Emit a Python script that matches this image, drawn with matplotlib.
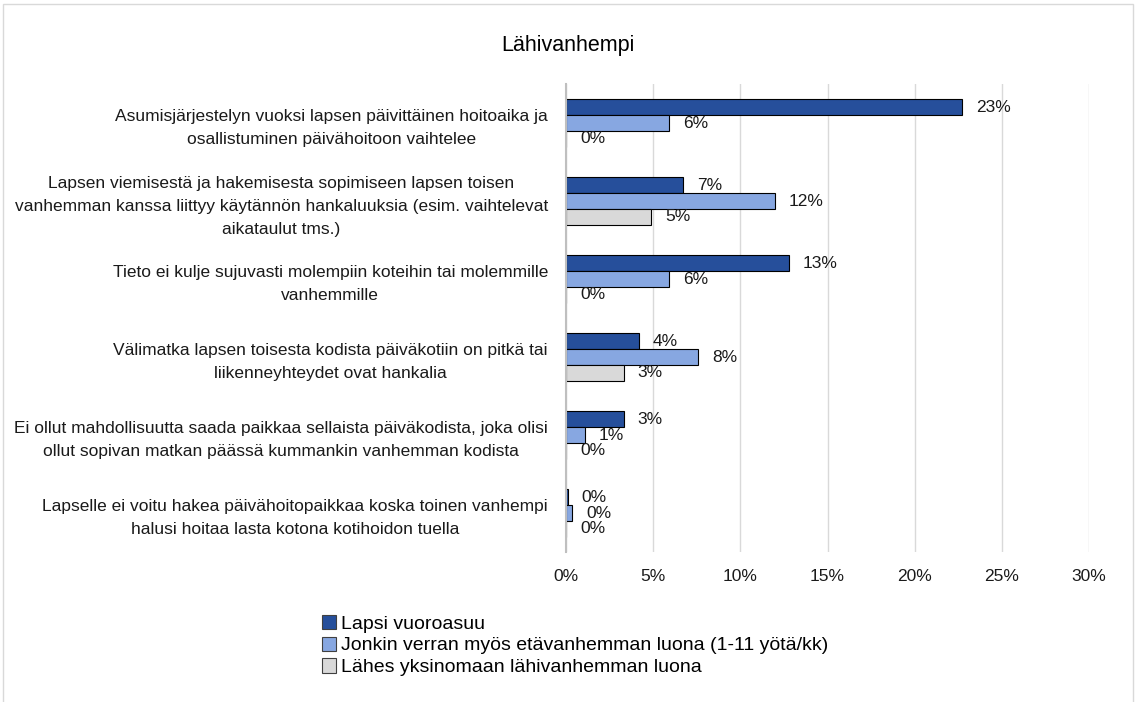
import matplotlib.pyplot as plt
import matplotlib.patches as mpatches
from matplotlib.ticker import FuncFormatter
import numpy as np

plt.rcParams['font.family'] = ['Liberation Sans', 'DejaVu Sans']

# data (share of respondents)
categories = [
    "Asumisjärjestelyn vuoksi lapsen päivittäinen hoitoaika ja\nosallistuminen päivähoitoon vaihtelee",
    "Lapsen viemisestä ja hakemisesta sopimiseen lapsen toisen\nvanhemman kanssa liittyy käytännön hankaluuksia (esim. vaihtelevat\naikataulut tms.)",
    "Tieto ei kulje sujuvasti molempiin koteihin tai molemmille\nvanhemmille",
    "Välimatka lapsen toisesta kodista päiväkotiin on pitkä tai\nliikenneyhteydet ovat hankalia",
    "Ei ollut mahdollisuutta saada paikkaa sellaista päiväkodista, joka olisi\nollut sopivan matkan päässä kummankin vanhemman kodista",
    "Lapselle ei voitu hakea päivähoitopaikkaa koska toinen vanhempi\nhalusi hoitaa lasta kotona kotihoidon tuella",
]
vuoroasuu = [0.227, 0.067, 0.128, 0.042, 0.033, 0.001]
etavanhempi = [0.059, 0.120, 0.059, 0.076, 0.011, 0.0035]
lahivanhempi = [0.0, 0.049, 0.0, 0.033, 0.0, 0.0]

series_names = ["Lapsi vuoroasuu",
                "Jonkin verran myös etävanhemman luona (1-11 yötä/kk)",
                "Lähes yksinomaan lähivanhemman luona"]
colors = ["#264f9b", "#87a7e1", "#d9d9d9"]

fig = plt.figure(figsize=(11.36, 7.02), dpi=100)
W, H = 1136, 702
ax = fig.add_axes([566 / W, 1 - 552 / H, (1089 - 566) / W, (552 - 84) / H])

y = np.arange(len(categories))
h = 0.205
for i, (vals, col) in enumerate(zip([vuoroasuu, etavanhempi, lahivanhempi], colors)):
    pos = y + (i - 1) * h
    ax.barh(pos, vals, height=h, color=col, edgecolor="black", linewidth=0.8,
            label=series_names[i], zorder=3)
    for p, v in zip(pos, vals):
        ax.annotate(f"{round(v * 100):.0f}%", (v, p), xytext=(10, 0),
                    textcoords="offset points", va="center", ha="left",
                    fontsize=12.5, color="#1a1a1a", zorder=4)

ax.set_xlim(0, 0.30)
ax.set_ylim(len(categories) - 0.5, -0.5)
ax.set_xticks(np.arange(0, 0.301, 0.05))
ax.xaxis.set_major_formatter(FuncFormatter(lambda v, _: f"{v * 100:.0f}%"))
ax.grid(axis="x", color="#d9d9d9", linewidth=1, zorder=0)
ax.tick_params(axis="x", length=0, pad=12, labelsize=12.5, colors="#1a1a1a")
ax.set_yticks(y)
ax.set_yticklabels(categories, multialignment="center", fontsize=12.5,
                   linespacing=1.65, color="#1a1a1a")
ax.tick_params(axis="y", length=0, pad=13)
for s in ["top", "right", "bottom"]:
    ax.spines[s].set_visible(False)
ax.spines["left"].set_color("#bfbfbf")
ax.spines["left"].set_linewidth(1.5)
ax.spines["left"].set_zorder(5)

fig.text(0.5, 1 - 45 / H, "Lähivanhempi", ha="center", va="center",
         fontsize=15.5, family=["Liberation Sans Narrow", "Liberation Sans"])

handles = [mpatches.Patch(facecolor=c, edgecolor="#404040", linewidth=0.8) for c in colors]
fig.legend(handles, series_names, loc="upper left",
           bbox_to_anchor=(314 / W, 1 - 607 / H), frameon=False,
           fontsize=14, handlelength=0.75, handleheight=0.75,
           handletextpad=0.25, labelspacing=0.2, borderaxespad=0)

# light frame around the chart area
fig.patches.append(mpatches.Rectangle((3 / W, -0.05), (1133 - 3) / W, 1.05 - 4 / H,
                                      transform=fig.transFigure, fill=False,
                                      edgecolor="#d9d9d9", linewidth=1))

fig.savefig("out.png", dpi=100)
